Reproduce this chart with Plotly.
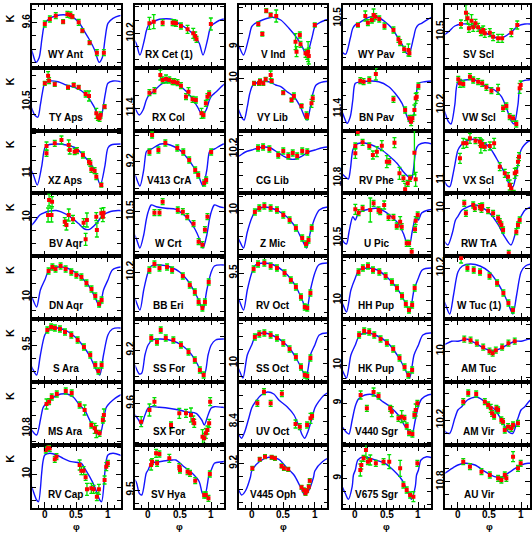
import plotly.graph_objects as go

# ---------------- data: one pulsation cycle of each template (phase, K) ----------------
# and observed points (phase, K, error)

WY_Ant_cph = [0.0, 0.08, 0.18, 0.34, 0.45, 0.55, 0.63, 0.71, 0.79, 0.86, 0.91, 0.955]
WY_Ant_cK = [9.606, 9.556, 9.53, 9.523, 9.546, 9.606, 9.69, 9.773, 9.873, 9.996, 9.95, 9.76]
WY_Ant_ph = [0.0, 0.08, 0.174, 0.29, 0.358, 0.406, 0.437, 0.537, 0.595, 0.71, 0.825, 0.936]
WY_Ant_K = [9.613, 9.563, 9.53, 9.59, 9.516, 9.523, 9.54, 9.596, 9.68, 9.80, 9.90, 9.90]
WY_Ant_e = [.03, .03, .03, .02, .03, .03, .02, .03, .02, .02, .03, .03]

RX_Cet_cph = [0.0, 0.05, 0.18, 0.39, 0.44, 0.57, 0.70, 0.81, 0.87, 0.94, 0.97]
RX_Cet_cK = [10.125, 10.10, 10.06, 10.06, 10.084, 10.134, 10.20, 10.30, 10.417, 10.267, 10.18]
RX_Cet_ph = [0.021, 0.089, 0.23, 0.388, 0.415, 0.442, 0.52, 0.625, 0.715, 0.746, 0.767, 0.994]
RX_Cet_K = [10.10, 10.084, 10.094, 10.094, 10.094, 10.10, 10.127, 10.16, 10.20, 10.227, 10.26, 10.107]
RX_Cet_e = [.06, .07, .03, .03, .03, .03, .03, .04, .05, .04, .03, .06]

V_Ind_cph = [0.0, 0.04, 0.17, 0.33, 0.46, 0.59, 0.72, 0.80, 0.87, 0.95]
V_Ind_cK = [8.80, 8.773, 8.733, 8.706, 8.733, 8.816, 8.916, 9.0, 9.083, 8.92]
V_Ind_ph = [0.104, 0.168, 0.23, 0.30, 0.388, 0.694, 0.71, 0.762, 0.773, 0.852, 0.877, 0.893, 0.904, 0.999]
V_Ind_K = [8.773, 8.873, 8.64, 8.683, 8.693, 8.95, 9.05, 8.883, 8.976, 9.066, 9.076, 9.05, 9.093, 8.783]
V_Ind_e = [.02, .02, .02, .02, .06, .08, .05, .03, .03, .04, .05, .10, .08, .02]

WY_Pav_cph = [0.0, 0.05, 0.21, 0.34, 0.47, 0.58, 0.68, 0.76, 0.81, 0.85, 0.92, 0.96]
WY_Pav_cK = [10.565, 10.55, 10.49, 10.484, 10.534, 10.60, 10.70, 10.784, 10.85, 10.857, 10.70, 10.60]
WY_Pav_ph = [0.041, 0.158, 0.199, 0.262, 0.289, 0.316, 0.379, 0.462, 0.604, 0.683, 0.71, 0.773, 0.841, 0.857]
WY_Pav_K = [10.567, 10.477, 10.544, 10.517, 10.467, 10.484, 10.507, 10.577, 10.617, 10.71, 10.744, 10.81, 10.817, 10.85]
WY_Pav_e = [.02, .05, .03, .03, .06, .03, .03, .03, .03, .03, .03, .03, .06, .03]

SV_Scl_cph = [0.06, 0.22, 0.35, 0.5, 0.64, 0.74, 0.85, 0.95]
SV_Scl_cK = [10.423, 10.433, 10.476, 10.533, 10.566, 10.55, 10.50, 10.443]
SV_Scl_ph = [0.048, 0.127, 0.152, 0.174, 0.215, 0.242, 0.278, 0.32, 0.363, 0.40, 0.426, 0.505, 0.557, 0.636, 0.70, 0.846, 0.94]
SV_Scl_K = [10.423, 10.31, 10.366, 10.466, 10.39, 10.456, 10.416, 10.456, 10.50, 10.483, 10.516, 10.51, 10.55, 10.566, 10.566, 10.51, 10.433]
SV_Scl_e = [.04, .08, .05, .04, .06, .04, .04, .04, .04, .04, .04, .04, .04, .04, .04, .04, .04]

TY_Aps_cph = [0.0, 0.08, 0.21, 0.34, 0.47, 0.58, 0.68, 0.78, 0.84, 0.89, 0.93, 0.96]
TY_Aps_cK = [10.316, 10.293, 10.30, 10.333, 10.356, 10.39, 10.45, 10.55, 10.633, 10.655, 10.53, 10.416]
TY_Aps_ph = [0.0, 0.052, 0.068, 0.158, 0.368, 0.458, 0.537, 0.647, 0.70, 0.816, 0.841, 0.868, 0.884, 0.947]
TY_Aps_K = [10.316, 10.24, 10.29, 10.326, 10.356, 10.333, 10.356, 10.423, 10.443, 10.616, 10.656, 10.666, 10.633, 10.55]
TY_Aps_e = [.02, .04, .03, .02, .02, .02, .02, .03, .05, .05, .03, .03, .03, .02]

RX_Col_cph = [0.0, 0.07, 0.23, 0.39, 0.55, 0.68, 0.78, 0.86, 0.92, 0.97]
RX_Col_cK = [11.28, 11.24, 11.15, 11.134, 11.20, 11.284, 11.384, 11.467, 11.417, 11.32]
RX_Col_ph = [0.021, 0.10, 0.194, 0.23, 0.284, 0.336, 0.388, 0.415, 0.467, 0.52, 0.60, 0.64, 0.704, 0.757, 0.846, 0.877, 0.915, 0.94, 0.967]
RX_Col_K = [11.244, 11.224, 11.067, 11.117, 11.107, 11.117, 11.134, 11.134, 11.144, 11.174, 11.284, 11.234, 11.31, 11.317, 11.45, 11.467, 11.35, 11.284, 11.257]
RX_Col_e = [.03, .03, .05, .03, .04, .03, .03, .03, .03, .03, .03, .04, .03, .03, .05, .03, .03, .03, .03]

VY_Lib_cph = [0.02, 0.14, 0.27, 0.38, 0.46, 0.56, 0.67, 0.77, 0.85, 0.88, 0.93, 0.97]
VY_Lib_cK = [10.067, 10.034, 10.034, 10.067, 10.084, 10.134, 10.184, 10.284, 10.40, 10.417, 10.284, 10.15]
VY_Lib_ph = [0.037, 0.115, 0.131, 0.183, 0.221, 0.30, 0.316, 0.499, 0.631, 0.668, 0.789, 0.868, 0.877, 0.947, 0.967]
VY_Lib_K = [10.05, 10.05, 10.027, 10.05, 10.01, 9.967, 10.027, 10.144, 10.217, 10.177, 10.277, 10.367, 10.384, 10.25, 10.20]
VY_Lib_e = [.02, .02, .02, .02, .02, .04, .02, .02, .02, .03, .02, .03, .03, .04, .03]

BN_Pav_cph = [0.0, 0.10, 0.37, 0.53, 0.63, 0.74, 0.81, 0.87, 0.92, 0.96]
BN_Pav_cK = [11.143, 11.127, 11.127, 11.177, 11.243, 11.343, 11.46, 11.543, 11.477, 11.31]
BN_Pav_ph = [0.079, 0.131, 0.221, 0.325, 0.604, 0.789, 0.857, 0.884, 0.904, 0.936, 0.956, 0.972, 0.999]
BN_Pav_K = [11.117, 11.127, 11.11, 11.05, 11.303, 11.41, 11.493, 11.527, 11.493, 11.41, 11.293, 11.277, 11.17]
BN_Pav_e = [.03, .03, .03, .06, .03, .03, .03, .04, .03, .05, .05, .04, .03]

VW_Scl_cph = [0.0, 0.11, 0.27, 0.43, 0.58, 0.69, 0.78, 0.85, 0.89, 0.95]
VW_Scl_cK = [9.97, 9.95, 9.95, 10.01, 10.05, 10.117, 10.25, 10.367, 10.39, 10.20]
VW_Scl_ph = [0.005, 0.032, 0.084, 0.19, 0.242, 0.32, 0.384, 0.451, 0.53, 0.636, 0.715, 0.767, 0.82, 0.873, 0.925, 0.978, 0.994]
VW_Scl_K = [9.943, 9.983, 9.99, 9.917, 9.95, 9.967, 9.983, 10.023, 10.057, 10.043, 10.233, 10.21, 10.317, 10.333, 10.39, 10.033, 10.0]
VW_Scl_e = [.03, .04, .03, .03, .03, .03, .03, .03, .03, .05, .03, .03, .03, .03, .03, .05, .04]

XZ_Aps_cph = [0.0, 0.05, 0.21, 0.34, 0.50, 0.63, 0.74, 0.82, 0.88, 0.95]
XZ_Aps_cK = [10.747, 10.717, 10.707, 10.717, 10.75, 10.834, 10.917, 11.017, 11.117, 10.934]
XZ_Aps_ph = [0.027, 0.027, 0.158, 0.264, 0.379, 0.395, 0.473, 0.51, 0.604, 0.70, 0.721, 0.737, 0.789, 0.816, 0.895]
XZ_Aps_K = [10.80, 10.727, 10.70, 10.667, 10.717, 10.767, 10.784, 10.774, 10.817, 10.884, 10.90, 10.96, 10.974, 11.034, 11.117]
XZ_Aps_e = [.03, .04, .03, .04, .05, .04, .03, .03, .03, .03, .03, .03, .03, .03, .02]

V413_CrA_cph = [0.0, 0.05, 0.2, 0.35, 0.5, 0.62, 0.72, 0.8, 0.87, 0.93, 0.97]
V413_CrA_cK = [9.083, 9.073, 9.023, 9.033, 9.083, 9.163, 9.253, 9.343, 9.443, 9.283, 9.103]
V413_CrA_ph = [0.021, 0.063, 0.163, 0.273, 0.462, 0.557, 0.651, 0.746, 0.794, 0.888, 0.92, 0.999]
V413_CrA_K = [9.103, 8.933, 9.083, 9.013, 9.063, 9.103, 9.183, 9.283, 9.333, 9.413, 9.383, 9.103]
V413_CrA_e = [.03, .03, .03, .03, .03, .03, .03, .03, .03, .03, .03, .03]

CG_Lib_cph = [0.0, 0.1, 0.2, 0.3, 0.4, 0.5, 0.6, 0.7, 0.8, 0.9]
CG_Lib_cK = [10.21, 10.19, 10.18, 10.19, 10.23, 10.27, 10.30, 10.30, 10.27, 10.23]
CG_Lib_ph = [0.1, 0.18, 0.28, 0.42, 0.5, 0.58, 0.65, 0.72, 0.8, 0.88]
CG_Lib_K = [10.19, 10.18, 10.20, 10.26, 10.22, 10.27, 10.24, 10.27, 10.22, 10.23]
CG_Lib_e = [.03, .03, .03, .03, .03, .03, .03, .03, .03, .03]

RV_Phe_cph = [0.0, 0.10, 0.26, 0.42, 0.55, 0.66, 0.76, 0.84, 0.89, 0.92, 0.96]
RV_Phe_cK = [10.47, 10.447, 10.47, 10.52, 10.587, 10.653, 10.737, 10.787, 10.81, 10.72, 10.52]
RV_Phe_ph = [0.037, 0.0, 0.0, 0.115, 0.221, 0.278, 0.341, 0.42, 0.499, 0.537, 0.62, 0.699, 0.762, 0.789, 0.83, 0.868, 0.936, 0.956]
RV_Phe_K = [10.34, 10.48, 10.553, 10.443, 10.48, 10.57, 10.537, 10.477, 10.637, 10.637, 10.447, 10.753, 10.803, 10.913, 10.853, 10.803, 10.547, 10.813]
RV_Phe_e = [.03, .03, .05, .03, .03, .04, .05, .05, .06, .03, .05, .06, .03, .06, .03, .03, .22, .07]

VX_Scl_cph = [0.0, 0.11, 0.27, 0.43, 0.53, 0.64, 0.74, 0.82, 0.87, 0.925, 0.98]
VX_Scl_cK = [10.70, 10.617, 10.593, 10.633, 10.70, 10.817, 10.933, 11.05, 11.067, 10.933, 10.75]
VX_Scl_ph = [0.032, 0.084, 0.136, 0.19, 0.278, 0.347, 0.363, 0.384, 0.426, 0.505, 0.573, 0.663, 0.742, 0.794, 0.82, 0.846, 0.884, 0.90, 0.925, 0.951, 0.967]
VX_Scl_K = [10.783, 10.633, 10.633, 10.583, 10.607, 10.617, 10.66, 10.64, 10.667, 10.66, 10.633, 10.867, 10.933, 10.967, 11.05, 11.083, 11.133, 10.933, 10.917, 10.817, 10.767]
VX_Scl_e = [.05, .05, .04, .05, .03, .04, .07, .04, .04, .04, .05, .04, .04, .04, .05, .05, .03, .05, .04, .04, .04]

BV_Aqr_cph = [0.0, 0.08, 0.18, 0.26, 0.40, 0.53, 0.63, 0.71, 0.82, 0.92]
BV_Aqr_cK = [9.952, 9.937, 9.932, 9.946, 9.994, 10.06, 10.117, 10.12, 10.06, 9.977]
BV_Aqr_ph = [0.068, 0.115, 0.052, 0.106, 0.316, 0.343, 0.379, 0.447, 0.615, 0.647, 0.667, 0.816, 0.825, 0.895, 0.92, 0.931]
BV_Aqr_K = [9.827, 9.844, 9.977, 9.977, 10.044, 10.077, 9.977, 10.02, 10.054, 10.22, 10.027, 9.994, 10.127, 9.96, 9.994, 9.954]
BV_Aqr_e = [.06, .05, .07, .07, .04, .05, .06, .04, .04, .06, .07, .04, .07, .05, .05, .05]

W_Crt_cph = [0.0, 0.05, 0.13, 0.28, 0.44, 0.55, 0.65, 0.75, 0.82, 0.87, 0.93, 0.97]
W_Crt_cK = [10.503, 10.433, 10.45, 10.466, 10.476, 10.523, 10.583, 10.683, 10.783, 10.863, 10.733, 10.583]
W_Crt_ph = [0.1, 0.18, 0.23, 0.47, 0.55, 0.62, 0.72, 0.8, 0.86, 0.9, 0.94]
W_Crt_K = [10.51, 10.51, 10.40, 10.483, 10.50, 10.55, 10.62, 10.80, 10.83, 10.68, 10.55]
W_Crt_e = [.03, .03, .03, .03, .03, .03, .03, .03, .03, .03, .03]

Z_Mic_cph = [0.0, 0.07, 0.2, 0.35, 0.5, 0.62, 0.72, 0.8, 0.87, 0.93]
Z_Mic_cK = [10.08, 10.0, 9.97, 9.99, 10.04, 10.11, 10.20, 10.30, 10.38, 10.22]
Z_Mic_ph = [0.05, 0.12, 0.2, 0.3, 0.4, 0.5, 0.6, 0.7, 0.8, 0.86, 0.9, 0.95]
Z_Mic_K = [10.02, 9.98, 9.96, 9.98, 10.0, 10.05, 10.10, 10.18, 10.28, 10.34, 10.30, 10.18]
Z_Mic_e = [.03, .03, .03, .03, .03, .03, .03, .03, .03, .03, .03, .03]

U_Pic_cph = [0.0, 0.05, 0.16, 0.34, 0.47, 0.58, 0.68, 0.76, 0.81, 0.86, 0.90, 0.96]
U_Pic_cK = [10.32, 10.25, 10.22, 10.203, 10.237, 10.293, 10.353, 10.453, 10.537, 10.56, 10.44, 10.287]
U_Pic_ph = [0.0, 0.052, 0.115, 0.237, 0.289, 0.368, 0.394, 0.457, 0.526, 0.604, 0.656, 0.71, 0.735, 0.814, 0.852, 0.893, 0.946, 0.956, 0.988]
U_Pic_K = [10.213, 10.247, 10.203, 10.22, 10.153, 10.22, 10.237, 10.17, 10.293, 10.293, 10.38, 10.337, 10.387, 10.553, 10.553, 10.637, 10.413, 10.327, 10.27]
U_Pic_e = [.05, .03, .03, .12, .03, .03, .03, .04, .03, .03, .03, .05, .03, .03, .03, .03, .03, .04, .03]

RW_TrA_cph = [0.0, 0.06, 0.14, 0.27, 0.43, 0.53, 0.64, 0.74, 0.84, 0.91, 0.96]
RW_TrA_cK = [10.08, 10.02, 9.99, 9.967, 10.01, 10.067, 10.167, 10.284, 10.367, 10.25, 10.12]
RW_TrA_ph = [0.10, 0.126, 0.242, 0.268, 0.347, 0.373, 0.384, 0.478, 0.557, 0.636, 0.663, 0.688, 0.715, 0.805, 0.925, 0.951, 0.978]
RW_TrA_K = [9.95, 10.05, 9.967, 10.0, 9.984, 10.01, 9.977, 10.024, 10.05, 10.10, 10.134, 10.167, 10.217, 10.45, 10.234, 10.167, 10.117]
RW_TrA_e = [.03, .03, .03, .03, .03, .03, .03, .03, .03, .03, .03, .03, .03, .03, .03, .03, .03]

DN_Aqr_cph = [0.0, 0.07, 0.2, 0.35, 0.5, 0.62, 0.72, 0.8, 0.87, 0.93]
DN_Aqr_cK = [9.83, 9.73, 9.70, 9.71, 9.76, 9.83, 9.91, 10.01, 10.10, 9.93]
DN_Aqr_ph = [0.06, 0.12, 0.17, 0.25, 0.33, 0.42, 0.5, 0.58, 0.66, 0.74, 0.8, 0.86, 0.9]
DN_Aqr_K = [9.74, 9.70, 9.72, 9.69, 9.72, 9.75, 9.78, 9.80, 9.86, 9.92, 9.99, 10.07, 10.03]
DN_Aqr_e = [.03, .03, .03, .03, .03, .03, .03, .03, .03, .03, .03, .03, .03]

BB_Eri_cph = [0.0, 0.05, 0.2, 0.35, 0.5, 0.62, 0.72, 0.8, 0.87, 0.93]
BB_Eri_cK = [10.20, 10.14, 10.13, 10.15, 10.20, 10.28, 10.38, 10.48, 10.58, 10.38]
BB_Eri_ph = [0.02, 0.1, 0.18, 0.3, 0.38, 0.55, 0.66, 0.74, 0.8, 0.86, 0.9, 0.96]
BB_Eri_K = [10.18, 10.12, 10.16, 10.15, 10.18, 10.24, 10.33, 10.40, 10.50, 10.56, 10.50, 10.30]
BB_Eri_e = [.03, .03, .03, .03, .03, .03, .03, .03, .03, .03, .03, .03]

RV_Oct_cph = [0.0, 0.06, 0.2, 0.35, 0.5, 0.62, 0.72, 0.8, 0.87, 0.93]
RV_Oct_cK = [9.50, 9.42, 9.40, 9.42, 9.48, 9.56, 9.66, 9.77, 9.87, 9.67]
RV_Oct_ph = [0.03, 0.1, 0.2, 0.3, 0.4, 0.52, 0.62, 0.7, 0.78, 0.84, 0.88, 0.93]
RV_Oct_K = [9.46, 9.41, 9.40, 9.43, 9.45, 9.50, 9.57, 9.64, 9.74, 9.84, 9.85, 9.70]
RV_Oct_e = [.03, .03, .03, .03, .03, .03, .03, .03, .03, .03, .03, .03]

HH_Pup_cph = [0.0, 0.06, 0.2, 0.35, 0.5, 0.62, 0.72, 0.8, 0.86, 0.93]
HH_Pup_cK = [9.78, 9.70, 9.68, 9.70, 9.77, 9.85, 9.94, 10.04, 10.12, 9.90]
HH_Pup_ph = [0.05, 0.12, 0.2, 0.28, 0.38, 0.48, 0.58, 0.66, 0.74, 0.8, 0.85, 0.9, 0.94]
HH_Pup_K = [9.72, 9.68, 9.66, 9.70, 9.72, 9.76, 9.82, 9.88, 9.96, 10.04, 10.10, 10.05, 9.88]
HH_Pup_e = [.03, .03, .03, .03, .03, .03, .03, .03, .03, .03, .03, .03, .03]

W_Tuc_cph = [0.0, 0.07, 0.2, 0.35, 0.5, 0.62, 0.72, 0.8, 0.87, 0.93]
W_Tuc_cK = [10.24, 10.18, 10.16, 10.18, 10.24, 10.34, 10.45, 10.56, 10.66, 10.47]
W_Tuc_ph = [0.05, 0.15, 0.25, 0.35, 0.5, 0.62, 0.72, 0.8, 0.87]
W_Tuc_K = [10.10, 10.20, 10.22, 10.24, 10.28, 10.35, 10.45, 10.55, 10.62]
W_Tuc_e = [.05, .03, .03, .03, .03, .03, .03, .03, .03]

S_Ara_cph = [0.0, 0.07, 0.2, 0.35, 0.5, 0.62, 0.72, 0.8, 0.87, 0.93]
S_Ara_cK = [9.40, 9.34, 9.33, 9.36, 9.43, 9.52, 9.62, 9.73, 9.80, 9.60]
S_Ara_ph = [0.04, 0.1, 0.16, 0.24, 0.32, 0.42, 0.52, 0.62, 0.72, 0.8, 0.85, 0.9]
S_Ara_K = [9.35, 9.32, 9.33, 9.34, 9.37, 9.40, 9.45, 9.52, 9.60, 9.70, 9.76, 9.70]
S_Ara_e = [.03, .03, .03, .03, .03, .03, .03, .03, .03, .03, .03, .03]

SS_For_cph = [0.0, 0.07, 0.2, 0.4, 0.55, 0.68, 0.78, 0.86, 0.9, 0.95]
SS_For_cK = [9.15, 9.10, 9.09, 9.11, 9.16, 9.24, 9.34, 9.44, 9.43, 9.25]
SS_For_ph = [0.05, 0.14, 0.2, 0.28, 0.4, 0.52, 0.64, 0.74, 0.82, 0.88]
SS_For_K = [9.08, 9.12, 9.00, 9.08, 9.10, 9.15, 9.22, 9.30, 9.40, 9.45]
SS_For_e = [.03, .03, .03, .03, .03, .03, .03, .03, .03, .03]

SS_Oct_cph = [0.0, 0.07, 0.2, 0.35, 0.5, 0.62, 0.72, 0.8, 0.86, 0.93]
SS_Oct_cK = [9.82, 9.72, 9.70, 9.73, 9.79, 9.87, 9.97, 10.07, 10.15, 9.92]
SS_Oct_ph = [0.05, 0.12, 0.2, 0.3, 0.4, 0.5, 0.6, 0.7, 0.78, 0.84, 0.88, 0.93]
SS_Oct_K = [9.74, 9.71, 9.70, 9.72, 9.75, 9.80, 9.86, 9.94, 10.04, 10.12, 10.13, 9.95]
SS_Oct_e = [.03, .03, .03, .03, .03, .03, .03, .03, .03, .03, .03, .03]

HK_Pup_cph = [0.0, 0.07, 0.2, 0.35, 0.5, 0.62, 0.72, 0.8, 0.86, 0.93]
HK_Pup_cK = [9.80, 9.70, 9.68, 9.71, 9.77, 9.86, 9.96, 10.06, 10.13, 9.90]
HK_Pup_ph = [0.06, 0.14, 0.22, 0.3, 0.4, 0.5, 0.6, 0.7, 0.78, 0.84, 0.9]
HK_Pup_K = [9.70, 9.66, 9.67, 9.70, 9.74, 9.78, 9.84, 9.93, 10.02, 10.10, 10.05]
HK_Pup_e = [.03, .03, .03, .03, .03, .03, .03, .03, .03, .03, .03]

AM_Tuc_cph = [0.0, 0.15, 0.3, 0.45, 0.55, 0.65, 0.8, 0.9]
AM_Tuc_cK = [9.90, 9.88, 9.93, 9.98, 10.00, 9.98, 9.93, 9.90]
AM_Tuc_ph = [0.1, 0.2, 0.3, 0.4, 0.5, 0.55, 0.6, 0.7, 0.8, 0.9]
AM_Tuc_K = [9.88, 9.89, 9.92, 9.96, 10.0, 10.02, 9.99, 9.96, 9.92, 9.90]
AM_Tuc_e = [.03, .03, .03, .03, .03, .03, .03, .03, .03, .03]

MS_Ara_cph = [0.0, 0.08, 0.2, 0.35, 0.45, 0.55, 0.63, 0.71, 0.79, 0.87, 0.93, 0.97]
MS_Ara_cK = [10.567, 10.517, 10.467, 10.457, 10.487, 10.567, 10.617, 10.717, 10.817, 10.867, 10.717, 10.597]
MS_Ara_ph = [0.027, 0.068, 0.11, 0.19, 0.332, 0.426, 0.552, 0.631, 0.737, 0.79, 0.816, 0.868, 0.92, 0.936]
MS_Ara_K = [10.557, 10.534, 10.487, 10.457, 10.427, 10.447, 10.567, 10.617, 10.767, 10.80, 10.834, 10.85, 10.717, 10.667]
MS_Ara_e = [.05, .03, .03, .03, .03, .03, .03, .05, .03, .05, .06, .03, .03, .06]

SX_For_cph = [0.0, 0.05, 0.18, 0.35, 0.49, 0.62, 0.76, 0.85, 0.89, 0.95]
SX_For_cK = [9.647, 9.634, 9.64, 9.652, 9.667, 9.687, 9.70, 9.767, 9.817, 9.717]
SX_For_ph = [-0.11, 0.021, 0.10, 0.363, 0.494, 0.60, 0.679, 0.715, 0.731, 0.862, 0.888, 0.915, 0.94, 0.967, 0.983]
SX_For_K = [9.784, 9.667, 9.584, 9.817, 9.70, 9.70, 9.717, 9.767, 9.80, 9.934, 9.95, 9.90, 9.867, 9.80, 9.584]
SX_For_e = [.05, .06, .04, .03, .05, .04, .07, .04, .04, .07, .05, .05, .04, .04, .04]

UV_Oct_cph = [0.0, 0.06, 0.15, 0.25, 0.35, 0.43, 0.56, 0.67, 0.75, 0.80, 0.84, 0.89, 0.96]
UV_Oct_cK = [8.263, 8.20, 8.133, 8.103, 8.123, 8.183, 8.25, 8.333, 8.45, 8.533, 8.566, 8.50, 8.35]
UV_Oct_ph = [0.089, 0.194, 0.30, 0.478, 0.694, 0.762, 0.877, 0.931, 0.956]
UV_Oct_K = [8.216, 8.10, 8.216, 8.12, 8.423, 8.45, 8.433, 8.366, 8.343]
UV_Oct_e = [.03, .03, .03, .03, .04, .03, .03, .05, .03]

V440_Sgr_cph = [0.0, 0.05, 0.15, 0.30, 0.42, 0.55, 0.68, 0.79, 0.87, 0.90, 0.95]
V440_Sgr_cK = [9.03, 8.96, 8.92, 8.92, 8.98, 9.037, 9.12, 9.237, 9.30, 9.31, 9.17]
V440_Sgr_ph = [0.084, 0.183, 0.289, 0.368, 0.552, 0.578, 0.683, 0.735, 0.778, 0.814, 0.852, 0.904, 0.936, 0.956, 0.983]
V440_Sgr_K = [8.92, 9.053, 8.89, 8.93, 9.053, 9.087, 9.153, 9.137, 9.153, 9.23, 9.297, 9.31, 9.12, 9.07, 9.003]
V440_Sgr_e = [.04, .03, .04, .03, .03, .05, .03, .06, .03, .03, .03, .03, .03, .06, .03]

AM_Vir_cph = [0.0, 0.06, 0.15, 0.3, 0.46, 0.59, 0.69, 0.80, 0.87, 0.95]
AM_Vir_cK = [10.10, 10.067, 10.00, 9.97, 10.033, 10.10, 10.20, 10.317, 10.333, 10.183]
AM_Vir_ph = [0.084, 0.163, 0.289, 0.426, 0.478, 0.52, 0.541, 0.573, 0.609, 0.636, 0.688, 0.715, 0.742, 0.794, 0.846, 0.873, 0.951]
AM_Vir_K = [10.017, 9.93, 9.94, 10.017, 10.05, 10.083, 10.133, 10.16, 10.083, 10.10, 10.20, 10.217, 10.30, 10.267, 10.283, 10.25, 10.233]
AM_Vir_e = [.03, .03, .03, .03, .03, .04, .03, .03, .03, .03, .03, .03, .03, .03, .03, .03, .03]

RV_Cap_cph = [0.0, 0.08, 0.19, 0.29, 0.42, 0.58, 0.63, 0.71, 0.79, 0.87, 0.9, 0.95, 0.97]
RV_Cap_cK = [9.81, 9.793, 9.81, 9.843, 9.877, 9.893, 9.943, 10.027, 10.127, 10.26, 10.277, 9.993, 9.88]
RV_Cap_ph = [0.016, 0.052, 0.079, 0.158, 0.185, 0.552, 0.579, 0.615, 0.647, 0.668, 0.737, 0.773, 0.825, 0.857, 0.947, 0.974, 0.999]
RV_Cap_K = [9.76, 9.737, 9.743, 9.853, 9.827, 9.91, 9.967, 9.967, 10.033, 10.153, 10.143, 10.153, 10.227, 10.153, 10.06, 9.927, 9.893]
RV_Cap_e = [.03, .03, .03, .03, .03, .05, .04, .04, .03, .06, .05, .04, .04, .05, .04, .04, .03]

SV_Hya_cph = [0.0, 0.05, 0.18, 0.39, 0.44, 0.57, 0.70, 0.81, 0.86, 0.9, 0.97]
SV_Hya_cK = [9.30, 9.233, 9.217, 9.20, 9.20, 9.267, 9.333, 9.417, 9.533, 9.55, 9.333]
SV_Hya_ph = [0.048, 0.063, 0.126, 0.142, 0.179, 0.336, 0.494, 0.505, 0.625, 0.663, 0.746, 0.888, 0.915, 0.956, 0.978]
SV_Hya_K = [9.25, 9.217, 9.133, 9.233, 9.14, 9.183, 9.267, 9.30, 9.317, 9.333, 9.407, 9.55, 9.55, 9.583, 9.34]
SV_Hya_e = [.05, .03, .04, .03, .03, .04, .03, .03, .03, .03, .03, .03, .03, .03, .03]

V445_Oph_cph = [0.0, 0.12, 0.27, 0.43, 0.54, 0.67, 0.77, 0.84, 0.9, 0.98]
V445_Oph_cK = [9.277, 9.184, 9.14, 9.16, 9.234, 9.317, 9.434, 9.517, 9.477, 9.337]
V445_Oph_ph = [0.01, 0.127, 0.21, 0.316, 0.368, 0.473, 0.51, 0.578, 0.789, 0.825, 0.852, 0.877, 0.904, 0.92]
V445_Oph_K = [9.25, 9.16, 9.134, 9.14, 9.15, 9.227, 9.25, 9.26, 9.44, 9.467, 9.50, 9.474, 9.434, 9.374]
V445_Oph_e = [.02, .02, .02, .02, .02, .02, .02, .02, .02, .02, .02, .02, .02, .02]

V675_Sgr_cph = [0.0, 0.04, 0.13, 0.32, 0.47, 0.60, 0.74, 0.84, 0.89, 0.95, 0.97]
V675_Sgr_cK = [8.917, 8.817, 8.784, 8.817, 8.85, 8.917, 9.017, 9.15, 9.21, 9.084, 8.967]
V675_Sgr_ph = [0.079, 0.095, 0.131, 0.168, 0.199, 0.237, 0.325, 0.447, 0.537, 0.71, 0.762, 0.814, 0.868, 0.92, 0.983]
V675_Sgr_K = [8.917, 8.867, 8.80, 8.717, 8.834, 8.817, 8.85, 8.834, 8.834, 8.90, 9.067, 9.117, 9.167, 9.184, 8.85]
V675_Sgr_e = [.06, .04, .03, .07, .03, .05, .03, .03, .07, .08, .03, .03, .03, .05, .03]

AU_Vir_cph = [0.0, 0.11, 0.27, 0.43, 0.58, 0.69, 0.79, 0.95]
AU_Vir_cK = [10.633, 10.616, 10.633, 10.70, 10.75, 10.756, 10.716, 10.65]
AU_Vir_ph = [0.084, 0.19, 0.373, 0.505, 0.636, 0.688, 0.742, 0.767, 0.873, 0.951, 0.994]
AU_Vir_K = [10.60, 10.65, 10.70, 10.733, 10.766, 10.783, 10.733, 10.766, 10.55, 10.666, 10.616]
AU_Vir_e = [.03, .03, .03, .03, .03, .03, .03, .03, .05, .03, .03]

# star names in panel order (rows of five) and the labelled K tick of each panel
star_names = ["WY Ant", "RX Cet (1)", "V Ind", "WY Pav", "SV Scl",
              "TY Aps", "RX Col", "VY Lib", "BN Pav", "VW Scl",
              "XZ Aps", "V413 CrA", "CG Lib", "RV Phe", "VX Scl",
              "BV Aqr", "W Crt", "Z Mic", "U Pic", "RW TrA",
              "DN Aqr", "BB Eri", "RV Oct", "HH Pup", "W Tuc (1)",
              "S Ara", "SS For", "SS Oct", "HK Pup", "AM Tuc",
              "MS Ara", "SX For", "UV Oct", "V440 Sgr", "AM Vir",
              "RV Cap", "SV Hya", "V445 Oph", "V675 Sgr", "AU Vir"]
k_tick_labels = [9.6, 10.2, 9, 10.5, 10.5,
                 10.5, 11.4, 10, 11.4, 10.2,
                 11, 9.2, 10.2, 10.8, 11,
                 10, 10.5, 10, 10.5, 10,
                 10, 10.2, 9.5, 10, 10.2,
                 9.5, 9.2, 10, 10, 10,
                 10.8, 9.6, 8.4, 9, 10.2,
                 10, 9.5, 9.2, 9, 10.8]
x_tick_labels = ["0", "0.5", "1"]
x_tick_values = [0, 0.5, 1]

series = [
    (WY_Ant_cph, WY_Ant_cK, WY_Ant_ph, WY_Ant_K, WY_Ant_e),
    (RX_Cet_cph, RX_Cet_cK, RX_Cet_ph, RX_Cet_K, RX_Cet_e),
    (V_Ind_cph, V_Ind_cK, V_Ind_ph, V_Ind_K, V_Ind_e),
    (WY_Pav_cph, WY_Pav_cK, WY_Pav_ph, WY_Pav_K, WY_Pav_e),
    (SV_Scl_cph, SV_Scl_cK, SV_Scl_ph, SV_Scl_K, SV_Scl_e),
    (TY_Aps_cph, TY_Aps_cK, TY_Aps_ph, TY_Aps_K, TY_Aps_e),
    (RX_Col_cph, RX_Col_cK, RX_Col_ph, RX_Col_K, RX_Col_e),
    (VY_Lib_cph, VY_Lib_cK, VY_Lib_ph, VY_Lib_K, VY_Lib_e),
    (BN_Pav_cph, BN_Pav_cK, BN_Pav_ph, BN_Pav_K, BN_Pav_e),
    (VW_Scl_cph, VW_Scl_cK, VW_Scl_ph, VW_Scl_K, VW_Scl_e),
    (XZ_Aps_cph, XZ_Aps_cK, XZ_Aps_ph, XZ_Aps_K, XZ_Aps_e),
    (V413_CrA_cph, V413_CrA_cK, V413_CrA_ph, V413_CrA_K, V413_CrA_e),
    (CG_Lib_cph, CG_Lib_cK, CG_Lib_ph, CG_Lib_K, CG_Lib_e),
    (RV_Phe_cph, RV_Phe_cK, RV_Phe_ph, RV_Phe_K, RV_Phe_e),
    (VX_Scl_cph, VX_Scl_cK, VX_Scl_ph, VX_Scl_K, VX_Scl_e),
    (BV_Aqr_cph, BV_Aqr_cK, BV_Aqr_ph, BV_Aqr_K, BV_Aqr_e),
    (W_Crt_cph, W_Crt_cK, W_Crt_ph, W_Crt_K, W_Crt_e),
    (Z_Mic_cph, Z_Mic_cK, Z_Mic_ph, Z_Mic_K, Z_Mic_e),
    (U_Pic_cph, U_Pic_cK, U_Pic_ph, U_Pic_K, U_Pic_e),
    (RW_TrA_cph, RW_TrA_cK, RW_TrA_ph, RW_TrA_K, RW_TrA_e),
    (DN_Aqr_cph, DN_Aqr_cK, DN_Aqr_ph, DN_Aqr_K, DN_Aqr_e),
    (BB_Eri_cph, BB_Eri_cK, BB_Eri_ph, BB_Eri_K, BB_Eri_e),
    (RV_Oct_cph, RV_Oct_cK, RV_Oct_ph, RV_Oct_K, RV_Oct_e),
    (HH_Pup_cph, HH_Pup_cK, HH_Pup_ph, HH_Pup_K, HH_Pup_e),
    (W_Tuc_cph, W_Tuc_cK, W_Tuc_ph, W_Tuc_K, W_Tuc_e),
    (S_Ara_cph, S_Ara_cK, S_Ara_ph, S_Ara_K, S_Ara_e),
    (SS_For_cph, SS_For_cK, SS_For_ph, SS_For_K, SS_For_e),
    (SS_Oct_cph, SS_Oct_cK, SS_Oct_ph, SS_Oct_K, SS_Oct_e),
    (HK_Pup_cph, HK_Pup_cK, HK_Pup_ph, HK_Pup_K, HK_Pup_e),
    (AM_Tuc_cph, AM_Tuc_cK, AM_Tuc_ph, AM_Tuc_K, AM_Tuc_e),
    (MS_Ara_cph, MS_Ara_cK, MS_Ara_ph, MS_Ara_K, MS_Ara_e),
    (SX_For_cph, SX_For_cK, SX_For_ph, SX_For_K, SX_For_e),
    (UV_Oct_cph, UV_Oct_cK, UV_Oct_ph, UV_Oct_K, UV_Oct_e),
    (V440_Sgr_cph, V440_Sgr_cK, V440_Sgr_ph, V440_Sgr_K, V440_Sgr_e),
    (AM_Vir_cph, AM_Vir_cK, AM_Vir_ph, AM_Vir_K, AM_Vir_e),
    (RV_Cap_cph, RV_Cap_cK, RV_Cap_ph, RV_Cap_K, RV_Cap_e),
    (SV_Hya_cph, SV_Hya_cK, SV_Hya_ph, SV_Hya_K, SV_Hya_e),
    (V445_Oph_cph, V445_Oph_cK, V445_Oph_ph, V445_Oph_K, V445_Oph_e),
    (V675_Sgr_cph, V675_Sgr_cK, V675_Sgr_ph, V675_Sgr_K, V675_Sgr_e),
    (AU_Vir_cph, AU_Vir_cK, AU_Vir_ph, AU_Vir_K, AU_Vir_e),
]

# ---------------- layout (axis windows) ----------------
# K value at the top edge of each panel (window placement, not data)
k_window_top = [9.42, 9.914, 8.58, 10.364, 10.23,
                10.159, 10.993, 9.893, 10.986, 9.826,
                10.572, 8.888, 10.015, 10.325, 10.505,
                9.761, 10.317, 9.834, 10.054, 9.851,
                9.593, 10.043, 9.333, 9.563, 10.083,
                9.242, 8.892, 9.562, 9.542, 9.68,
                10.338, 9.388, 8.004, 8.791, 9.821,
                9.71, 9.05, 9.017, 8.667, 10.433]
K_SPAN = 0.629
W, H = 532, 533
COL_LEFT = [32.3, 136.0, 240.0, 344.0, 447.0]
PANEL_W = 88.7
ROW_TOP0, ROW_H = 4.7, 62.9
PX_PER_PHASE = PANEL_W / 1.4

FONT = "Liberation Sans"
BLUE, RED, GREEN = "#1414ff", "#ff0000", "#00e000"

fig = go.Figure()
annotations = []

for i, (cph, cK, ph, K, err) in enumerate(series):
    r, c = divmod(i, 5)
    n = i + 1
    xs = "x" if n == 1 else f"x{n}"
    ys = "y" if n == 1 else f"y{n}"
    xkey = "xaxis" if n == 1 else f"xaxis{n}"
    ykey = "yaxis" if n == 1 else f"yaxis{n}"

    # template over three cycles
    tx = [p - 1 for p in cph] + list(cph) + [p + 1 for p in cph] + [cph[0] + 2]
    ty = list(cK) * 3 + [cK[0]]
    fig.add_trace(go.Scatter(x=tx, y=ty, mode="lines", xaxis=xs, yaxis=ys,
                             line=dict(color=BLUE, width=1.4, shape="spline", smoothing=0.8),
                             hoverinfo="skip", showlegend=False))
    fig.add_trace(go.Scatter(x=ph, y=K, mode="markers", xaxis=xs, yaxis=ys,
                             marker=dict(symbol="square", size=4, color=RED),
                             error_y=dict(type="data", array=err, visible=True,
                                          color=GREEN, thickness=1.3, width=2),
                             showlegend=False))

    left = COL_LEFT[c]
    right = min(left + PANEL_W, W)
    top = ROW_TOP0 + r * ROW_H
    bot = top + ROW_H
    xmax = -0.2 + (right - left) / PX_PER_PHASE
    ktop = k_window_top[i]

    fig.layout[xkey] = dict(
        domain=[left / W, right / W], range=[-0.2, xmax], anchor=ys,
        showline=True, linecolor="black", linewidth=1.5, mirror="allticks",
        ticks="inside", ticklen=6, tickwidth=1.3, tickcolor="black",
        tickvals=x_tick_values, ticktext=x_tick_labels,
        showticklabels=False,
        minor=dict(dtick=0.1, tick0=0, ticks="inside", ticklen=3, tickwidth=1.1,
                   tickcolor="black", showgrid=False),
        showgrid=False, zeroline=False, fixedrange=True)
    fig.layout[ykey] = dict(
        domain=[1 - bot / H, 1 - top / H], range=[ktop + K_SPAN, ktop], anchor=xs,
        showline=True, linecolor="black", linewidth=1.5, mirror="allticks",
        ticks="inside", ticklen=5, tickwidth=1.3, tickcolor="black",
        tickvals=[k_tick_labels[i]], ticktext=[f"{k_tick_labels[i]:g}"],
        tickangle=-90, ticklabelstandoff=-4,
        tickfont=dict(family=FONT, size=10, color="black", weight="bold"),
        minor=dict(tick0=k_tick_labels[i], dtick=0.132, ticks="inside", ticklen=4,
                   tickwidth=1.1, tickcolor="black", showgrid=False),
        showgrid=False, zeroline=False, fixedrange=True)

    annotations.append(dict(text=star_names[i], xref=xs, yref=f"{ys} domain",
                            x=0.33, y=0.21, xanchor="center", yanchor="middle",
                            showarrow=False,
                            font=dict(family=FONT, size=10, color="black", weight="bold")))
    if c == 0:
        annotations.append(dict(text="K", xref="paper", yref="paper",
                                x=10 / W, y=1 - (top + ROW_H * 0.22) / H,
                                textangle=-90, xanchor="center", yanchor="middle",
                                showarrow=False,
                                font=dict(family=FONT, size=11, color="black", weight="bold")))
    if r == 7:
        # phase tick labels under the bottom row
        for tv, tt in zip(x_tick_values, x_tick_labels):
            annotations.append(dict(text=tt, xref=xs, yref="paper",
                                    x=tv, y=1 - 514.5 / H, xanchor="center", yanchor="middle",
                                    showarrow=False, borderpad=0,
                                    font=dict(family=FONT, size=10, color="black", weight="bold")))
        annotations.append(dict(text="φ", xref=xs, yref="paper",
                                x=0.5, y=1 - 532.5 / H, xanchor="center", yanchor="bottom",
                                showarrow=False, borderpad=0,
                                font=dict(family=FONT, size=9.5, color="black", weight="bold")))

fig.update_layout(width=W, height=H, margin=dict(l=0, r=0, t=0, b=0, pad=0),
                  paper_bgcolor="white", plot_bgcolor="white",
                  showlegend=False, annotations=annotations)

# place the fixed-size figure flush with the page corner, without the mode bar
fig.write_html("out.html",
               config={"displayModeBar": False},
               post_script="document.body.style.margin='0';document.body.style.padding='0';"
                           "document.body.style.overflow='hidden';")
